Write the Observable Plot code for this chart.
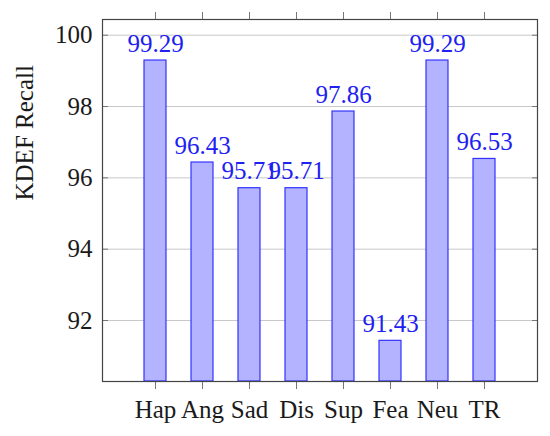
<!DOCTYPE html>
<html>
<head>
<meta charset="utf-8">
<script src="https://cdn.jsdelivr.net/npm/d3@7"></script>
<script src="https://cdn.jsdelivr.net/npm/@observablehq/plot@0.6"></script>
<style>
  body { margin: 0; background: #fff; }
  #chart svg, #chart svg text { font-family: "Liberation Serif", serif !important; }
</style>
</head>
<body>
<div id="chart"></div>
<script>
const categories = ["Hap", "Ang", "Sad", "Dis", "Sup", "Fea", "Neu", "TR"];
const recall = [99.29, 96.43, 95.71, 95.71, 97.86, 91.43, 99.29, 96.53];
const yTicks = [92, 94, 96, 98, 100];
const yMin = 90.29, yMax = 100.44;

const data = categories.map((c, i) => ({cat: c, value: recall[i]}));
const none = () => "";

const chart = Plot.plot({
  width: 550,
  height: 436,
  marginLeft: 102,
  marginRight: 13,
  marginTop: 19,
  marginBottom: 55,
  style: {fontSize: "25px", background: "#fff", color: "#1a1a1a"},
  x: {type: "band", domain: categories, paddingInner: 0.527, paddingOuter: 0.795, label: null},
  y: {domain: [yMin, yMax], label: null},
  marks: [
    Plot.gridY(yTicks, {stroke: "#c8c8c8", strokeOpacity: 1, strokeWidth: 1}),
    Plot.barY(data, {x: "cat", y1: () => yMin, y2: "value", fill: "#b3b3ff", stroke: "#3333ff", strokeWidth: 1.2}),
    Plot.text(data, {x: "cat", y: "value", text: d => d.value.toFixed(2), dy: -17, fill: "#2020f0", fontSize: 25}),
    Plot.axisY(yTicks, {anchor: "left", tickSize: 6, dx: 6, tickPadding: 10, stroke: "#777", fill: "#1a1a1a", fontSize: 25, label: null}),
    Plot.axisY(yTicks, {anchor: "right", tickSize: 6, dx: -6, tickFormat: none, stroke: "#777", label: null}),
    Plot.axisX({anchor: "bottom", tickSize: 8, tickPadding: 11, stroke: "#777", fill: "#1a1a1a", fontSize: 25, label: null}),
    Plot.axisX({anchor: "top", tickSize: 8, tickFormat: none, stroke: "#777", label: null}),
    Plot.frame({stroke: "#444", strokeWidth: 1.2}),
    Plot.text(["KDEF Recall"], {frameAnchor: "left", rotate: -90, dx: -78, fontSize: 25, fill: "#1a1a1a"})
  ]
});
document.getElementById("chart").appendChild(chart);
</script>
</body>
</html>
